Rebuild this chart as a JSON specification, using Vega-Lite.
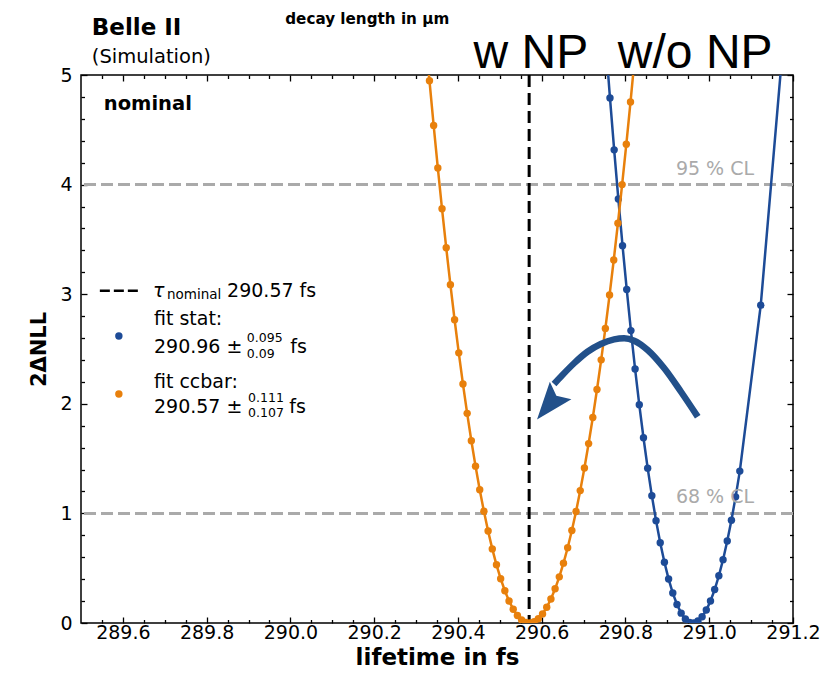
{
"$schema":"https://vega.github.io/schema/vega-lite/v6.json",
"width":712,"height":548,"autosize":{"type":"none"},
"padding":{"left":81,"top":75,"right":30,"bottom":54},
"background":"white",
"config":{"font":"DejaVu Sans","view":{"stroke":"black","strokeWidth":1.5},
"axis":{"grid":false,"domain":false,"tickColor":"black","tickWidth":1.3,"labelColor":"black","labelFontSize":19,"titleColor":"black","titleFontSize":23,"titleFontWeight":"bold","labelFlush":false,"labelOverlap":false}},
"data":{"values":[{}]},
"datasets":{
"orange":[{"x":290.322,"y":5.372},{"x":290.332,"y":4.948},{"x":290.342,"y":4.540},{"x":290.352,"y":4.151},{"x":290.362,"y":3.779},{"x":290.372,"y":3.424},{"x":290.382,"y":3.087},{"x":290.392,"y":2.767},{"x":290.402,"y":2.465},{"x":290.412,"y":2.180},{"x":290.422,"y":1.913},{"x":290.432,"y":1.663},{"x":290.442,"y":1.431},{"x":290.452,"y":1.216},{"x":290.462,"y":1.019},{"x":290.472,"y":0.839},{"x":290.482,"y":0.676},{"x":290.492,"y":0.531},{"x":290.502,"y":0.404},{"x":290.512,"y":0.294},{"x":290.522,"y":0.201},{"x":290.532,"y":0.126},{"x":290.542,"y":0.068},{"x":290.552,"y":0.028},{"x":290.562,"y":0.006},{"x":290.572,"y":0.000},{"x":290.582,"y":0.012},{"x":290.592,"y":0.039},{"x":290.602,"y":0.083},{"x":290.612,"y":0.143},{"x":290.622,"y":0.219},{"x":290.632,"y":0.312},{"x":290.642,"y":0.421},{"x":290.652,"y":0.546},{"x":290.662,"y":0.687},{"x":290.672,"y":0.844},{"x":290.682,"y":1.018},{"x":290.692,"y":1.208},{"x":290.702,"y":1.414},{"x":290.712,"y":1.637},{"x":290.722,"y":1.875},{"x":290.732,"y":2.130},{"x":290.742,"y":2.401},{"x":290.752,"y":2.688},{"x":290.762,"y":2.992},{"x":290.772,"y":3.312},{"x":290.782,"y":3.648},{"x":290.792,"y":4.000},{"x":290.802,"y":4.368},{"x":290.812,"y":4.753},{"x":290.822,"y":5.154}],
"blue":[{"x":290.753,"y":5.290},{"x":290.763,"y":4.791},{"x":290.773,"y":4.317},{"x":290.783,"y":3.868},{"x":290.793,"y":3.443},{"x":290.803,"y":3.043},{"x":290.813,"y":2.668},{"x":290.823,"y":2.317},{"x":290.833,"y":1.991},{"x":290.843,"y":1.690},{"x":290.853,"y":1.413},{"x":290.863,"y":1.162},{"x":290.873,"y":0.934},{"x":290.883,"y":0.732},{"x":290.893,"y":0.554},{"x":290.903,"y":0.401},{"x":290.913,"y":0.273},{"x":290.923,"y":0.169},{"x":290.933,"y":0.090},{"x":290.943,"y":0.036},{"x":290.953,"y":0.006},{"x":290.963,"y":0.001},{"x":290.973,"y":0.018},{"x":290.983,"y":0.057},{"x":290.993,"y":0.118},{"x":291.003,"y":0.201},{"x":291.013,"y":0.305},{"x":291.023,"y":0.431},{"x":291.033,"y":0.578},{"x":291.043,"y":0.748},{"x":291.053,"y":0.938},{"x":291.063,"y":1.151},{"x":291.073,"y":1.386},{"x":291.123,"y":2.900},{"x":291.18,"y":5.45}],
"arrow":[{"x":290.6294,"y":2.181},{"x":290.6495,"y":2.263},{"x":290.6773,"y":2.370},{"x":290.7093,"y":2.475},{"x":290.7411,"y":2.546},{"x":290.7730,"y":2.588},{"x":290.7969,"y":2.598},{"x":290.8208,"y":2.576},{"x":290.8529,"y":2.491},{"x":290.8926,"y":2.324},{"x":290.9325,"y":2.110},{"x":290.9725,"y":1.882}],
"cl":[{"y":1},{"y":4}]
},
"layer":[
{"data":{"name":"cl"},"mark":{"type":"rule","color":"#aaaaaa","strokeWidth":3,"strokeDash":[12,5]},
 "encoding":{"y":{"field":"y","type":"quantitative","scale":{"domain":[0,5],"zero":false,"nice":false},"axis":null}}},
{"mark":{"type":"rule","color":"black","strokeWidth":3,"strokeDash":[12,6]},
 "encoding":{"x":{"datum":290.57,"type":"quantitative","scale":{"domain":[289.5,291.2],"zero":false,"nice":false},"axis":null}}},
{"data":{"name":"blue"},"mark":{"type":"line","color":"#1d4b97","strokeWidth":2.5,"clip":true},
 "encoding":{"x":{"field":"x","type":"quantitative","scale":{"domain":[289.5,291.2],"zero":false,"nice":false},
   "axis":{"orient":"top","values":[289.6,289.8,290.0,290.2,290.4,290.6,290.8,291.0,291.2],"tickSize":-6,"labels":false,"title":null}},
  "y":{"field":"y","type":"quantitative","scale":{"domain":[0,5],"zero":false,"nice":false},
   "axis":{"orient":"right","values":[0,1,2,3,4,5],"tickSize":-6,"labels":false,"title":null}}}},
{"data":{"name":"blue"},"mark":{"type":"circle","color":"#1d4b97","size":55,"opacity":1,"clip":true},
 "encoding":{"x":{"field":"x","type":"quantitative","scale":{"domain":[289.5,291.2],"zero":false,"nice":false},
   "axis":{"orient":"top","values":[289.55,289.65,289.7,289.75,289.85,289.9,289.95,290.05,290.1,290.15,290.25,290.3,290.35,290.45,290.5,290.55,290.65,290.7,290.75,290.85,290.9,290.95,291.05,291.1,291.15],"tickSize":-3.5,"labels":false,"title":null}},
  "y":{"field":"y","type":"quantitative","scale":{"domain":[0,5],"zero":false,"nice":false},
   "axis":{"orient":"right","values":[0.2,0.4,0.6,0.8,1.2,1.4,1.6,1.8,2.2,2.4,2.6,2.8,3.2,3.4,3.6,3.8,4.2,4.4,4.6,4.8],"tickSize":-3.5,"labels":false,"title":null}}}},
{"data":{"name":"orange"},"mark":{"type":"line","color":"#e8800c","strokeWidth":2.5,"clip":true},
 "encoding":{"x":{"field":"x","type":"quantitative","scale":{"domain":[289.5,291.2],"zero":false,"nice":false},
   "axis":{"orient":"bottom","values":[289.6,289.8,290.0,290.2,290.4,290.6,290.8,291.0,291.2],"format":".1f","tickSize":-6,"labelPadding":6.5,"title":"lifetime in fs","titlePadding":4}},
  "y":{"field":"y","type":"quantitative","scale":{"domain":[0,5],"zero":false,"nice":false},
   "axis":{"orient":"left","values":[0,1,2,3,4,5],"format":"d","tickSize":-6,"labelPadding":15,"title":"2ΔNLL","titleFontSize":21,"titlePadding":10}}}},
{"data":{"name":"orange"},"mark":{"type":"circle","color":"#e8800c","size":55,"opacity":1,"clip":true},
 "encoding":{"x":{"field":"x","type":"quantitative","scale":{"domain":[289.5,291.2],"zero":false,"nice":false},
   "axis":{"orient":"bottom","values":[289.55,289.65,289.7,289.75,289.85,289.9,289.95,290.05,290.1,290.15,290.25,290.3,290.35,290.45,290.5,290.55,290.65,290.7,290.75,290.85,290.9,290.95,291.05,291.1,291.15],"tickSize":-3.5,"labels":false,"title":null}},
  "y":{"field":"y","type":"quantitative","scale":{"domain":[0,5],"zero":false,"nice":false},
   "axis":{"orient":"left","values":[0.2,0.4,0.6,0.8,1.2,1.4,1.6,1.8,2.2,2.4,2.6,2.8,3.2,3.4,3.6,3.8,4.2,4.4,4.6,4.8],"tickSize":-3.5,"labels":false,"title":null}}}},
{"data":{"name":"arrow"},"mark":{"type":"line","color":"#22508a","strokeWidth":6.5,"strokeCap":"butt","interpolate":"monotone"},
 "encoding":{"x":{"field":"x","type":"quantitative","axis":null},"y":{"field":"y","type":"quantitative","axis":null}}},
{"mark":{"type":"point","shape":"M1,0L-1,-0.74L-0.64,0L-1,0.74Z","filled":true,"size":1406,"angle":129,"color":"#22508a","opacity":1,"strokeWidth":0},
 "encoding":{"x":{"datum":290.617,"type":"quantitative","axis":null},"y":{"datum":1.989,"type":"quantitative","axis":null}}},
{"mark":{"type":"text","text":"Belle II","align":"left","baseline":"alphabetic","fontSize":23,"fontWeight":"bold"},
 "encoding":{"x":{"datum":289.5258,"type":"quantitative","axis":null},"y":{"datum":5.365,"type":"quantitative","axis":null}}},
{"mark":{"type":"text","text":"(Simulation)","align":"left","baseline":"alphabetic","fontSize":19.5},
 "encoding":{"x":{"datum":289.5258,"type":"quantitative","axis":null},"y":{"datum":5.107,"type":"quantitative","axis":null}}},
{"mark":{"type":"text","text":"nominal","align":"left","baseline":"alphabetic","fontSize":19.5,"fontWeight":"bold"},
 "encoding":{"x":{"datum":289.5545,"type":"quantitative","axis":null},"y":{"datum":4.681,"type":"quantitative","axis":null}}},
{"mark":{"type":"text","text":"decay length in µm","align":"left","baseline":"alphabetic","fontSize":15.2,"fontWeight":"bold"},
 "encoding":{"x":{"datum":289.9876,"type":"quantitative","axis":null},"y":{"datum":5.465,"type":"quantitative","axis":null}}},
{"mark":{"type":"text","text":"w NP","align":"left","baseline":"alphabetic","fontSize":48,"font":"Liberation Sans"},
 "encoding":{"x":{"datum":290.4373,"type":"quantitative","axis":null},"y":{"datum":5.061,"type":"quantitative","axis":null}}},
{"mark":{"type":"text","text":"w/o NP","align":"left","baseline":"alphabetic","fontSize":48,"font":"Liberation Sans"},
 "encoding":{"x":{"datum":290.7818,"type":"quantitative","axis":null},"y":{"datum":5.061,"type":"quantitative","axis":null}}},
{"mark":{"type":"text","text":"95 % CL","align":"right","baseline":"alphabetic","fontSize":19,"color":"#aaaaaa"},
 "encoding":{"x":{"datum":291.107,"type":"quantitative","axis":null},"y":{"datum":4.088,"type":"quantitative","axis":null}}},
{"mark":{"type":"text","text":"68 % CL","align":"right","baseline":"alphabetic","fontSize":19,"color":"#aaaaaa"},
 "encoding":{"x":{"datum":291.107,"type":"quantitative","axis":null},"y":{"datum":1.095,"type":"quantitative","axis":null}}},
{"mark":{"type":"rule","color":"black","strokeWidth":2.5,"strokeDash":[10,4]},
 "encoding":{"x":{"datum":289.545,"type":"quantitative","axis":null},"x2":{"datum":289.636},"y":{"datum":3.032,"type":"quantitative","axis":null}}},
{"mark":{"type":"text","text":"τ","align":"left","baseline":"alphabetic","fontSize":19,"fontStyle":"italic"},
 "encoding":{"x":{"datum":289.6718,"type":"quantitative","axis":null},"y":{"datum":2.977,"type":"quantitative","axis":null}}},
{"mark":{"type":"text","text":"nominal","align":"left","baseline":"alphabetic","fontSize":13.5},
 "encoding":{"x":{"datum":289.7053,"type":"quantitative","axis":null},"y":{"datum":2.952,"type":"quantitative","axis":null}}},
{"mark":{"type":"text","text":"290.57 fs","align":"left","baseline":"alphabetic","fontSize":19},
 "encoding":{"x":{"datum":289.8488,"type":"quantitative","axis":null},"y":{"datum":2.977,"type":"quantitative","axis":null}}},
{"mark":{"type":"circle","color":"#1d4b97","size":55,"opacity":1},
 "encoding":{"x":{"datum":289.5904,"type":"quantitative","axis":null},"y":{"datum":2.619,"type":"quantitative","axis":null}}},
{"mark":{"type":"text","text":"fit stat:","align":"left","baseline":"alphabetic","fontSize":19},
 "encoding":{"x":{"datum":289.6742,"type":"quantitative","axis":null},"y":{"datum":2.719,"type":"quantitative","axis":null}}},
{"mark":{"type":"text","text":"290.96 ±","align":"left","baseline":"alphabetic","fontSize":19},
 "encoding":{"x":{"datum":289.6742,"type":"quantitative","axis":null},"y":{"datum":2.466,"type":"quantitative","axis":null}}},
{"mark":{"type":"text","text":"0.095","align":"left","baseline":"alphabetic","fontSize":12.5},
 "encoding":{"x":{"datum":289.8959,"type":"quantitative","axis":null},"y":{"datum":2.562,"type":"quantitative","axis":null}}},
{"mark":{"type":"text","text":"0.09","align":"left","baseline":"alphabetic","fontSize":12.5},
 "encoding":{"x":{"datum":289.8959,"type":"quantitative","axis":null},"y":{"datum":2.422,"type":"quantitative","axis":null}}},
{"mark":{"type":"text","text":"fs","align":"left","baseline":"alphabetic","fontSize":19},
 "encoding":{"x":{"datum":289.9995,"type":"quantitative","axis":null},"y":{"datum":2.466,"type":"quantitative","axis":null}}},
{"mark":{"type":"circle","color":"#e8800c","size":55,"opacity":1},
 "encoding":{"x":{"datum":289.5904,"type":"quantitative","axis":null},"y":{"datum":2.089,"type":"quantitative","axis":null}}},
{"mark":{"type":"text","text":"fit ccbar:","align":"left","baseline":"alphabetic","fontSize":19},
 "encoding":{"x":{"datum":289.6742,"type":"quantitative","axis":null},"y":{"datum":2.144,"type":"quantitative","axis":null}}},
{"mark":{"type":"text","text":"290.57 ±","align":"left","baseline":"alphabetic","fontSize":19},
 "encoding":{"x":{"datum":289.6742,"type":"quantitative","axis":null},"y":{"datum":1.913,"type":"quantitative","axis":null}}},
{"mark":{"type":"text","text":"0.111","align":"left","baseline":"alphabetic","fontSize":12.5},
 "encoding":{"x":{"datum":289.899,"type":"quantitative","axis":null},"y":{"datum":2.020,"type":"quantitative","axis":null}}},
{"mark":{"type":"text","text":"0.107","align":"left","baseline":"alphabetic","fontSize":12.5},
 "encoding":{"x":{"datum":289.899,"type":"quantitative","axis":null},"y":{"datum":1.877,"type":"quantitative","axis":null}}},
{"mark":{"type":"text","text":"fs","align":"left","baseline":"alphabetic","fontSize":19},
 "encoding":{"x":{"datum":289.9971,"type":"quantitative","axis":null},"y":{"datum":1.913,"type":"quantitative","axis":null}}}
],
"resolve":{"axis":{"x":"independent","y":"independent"}}
}
